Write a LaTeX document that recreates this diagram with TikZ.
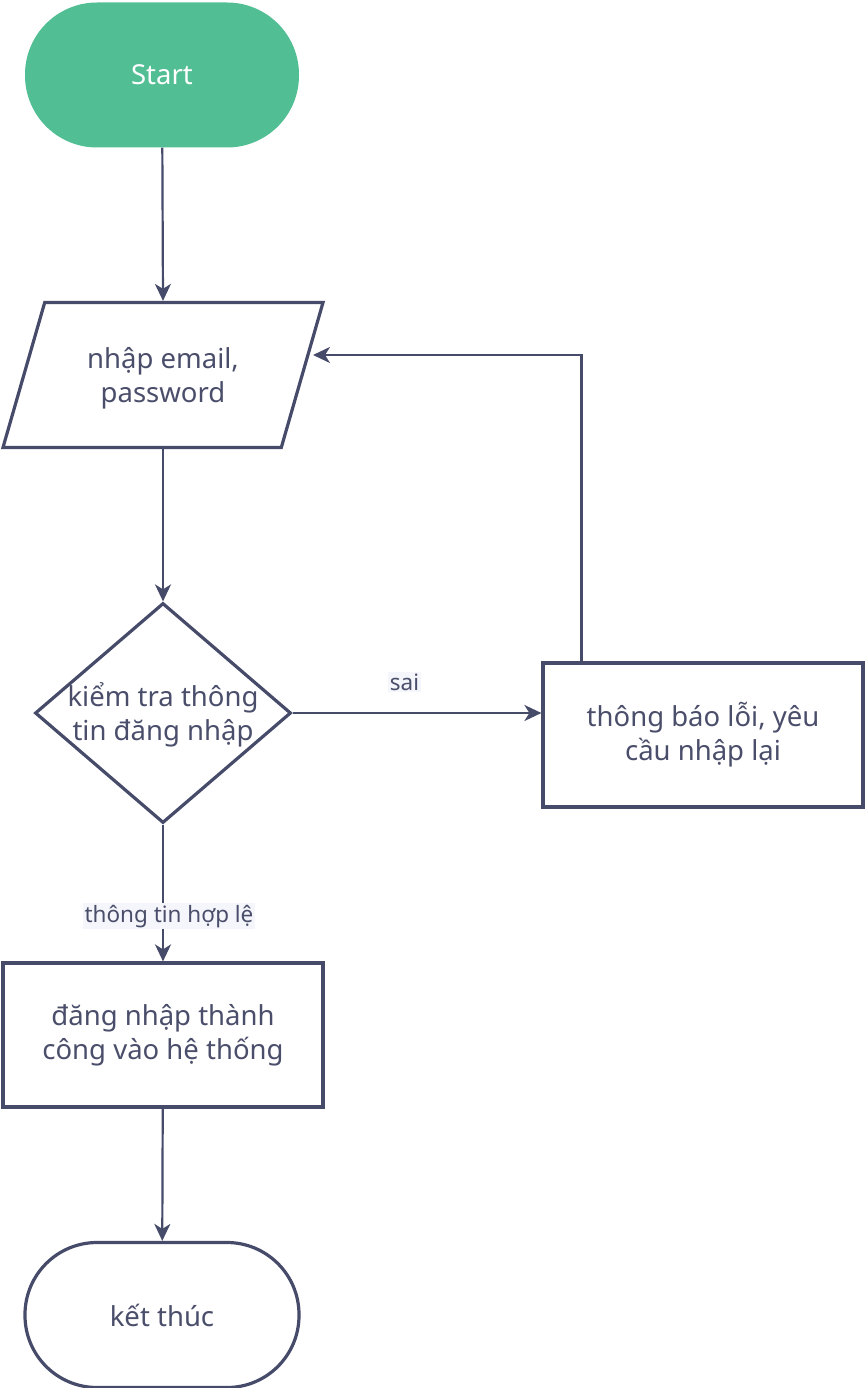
\documentclass[tikz,border=0pt]{standalone}
\usepackage{fontspec}
\setmainfont{Noto Sans}
\usetikzlibrary{shapes.geometric,arrows.meta}
\definecolor{ink}{HTML}{474B6A}
\definecolor{txt}{HTML}{4A4E6A}
\definecolor{mint}{HTML}{52BE94}
\definecolor{tagbg}{HTML}{F4F6FB}
\begin{document}
\begin{tikzpicture}[
    x=1pt, y=-1pt,
    shape line/.style={draw=ink, line width=3.2pt},
    term/.style={rounded corners=72pt, minimum width=274pt, minimum height=145pt},
    box/.style={shape line, minimum width=320pt, minimum height=144pt},
    words/.style={text=txt, font=\fontsize{27.5}{34}\selectfont, align=center},
    flow/.style={draw=ink, line width=2.2pt, -{Stealth[length=17pt,width=16pt,inset=5pt]}},
    tag/.style={fill=tagbg, text=txt, font=\fontsize{22.5}{26}\selectfont, inner sep=1.5pt}
  ]
  \useasboundingbox (0,0) rectangle (864,1388);
  % start and end
  \node[term, fill=mint, text=white, font=\fontsize{27.5}{34}\selectfont] (start) at (162,75) {Start};
  \node[term, shape line, fill=white, words] (fin) at (162,1315) {kết thúc};
  % input
  \node[shape line, trapezium, trapezium left angle=80, trapezium right angle=100,
        trapezium stretches=true, minimum width=320pt, minimum height=145pt] (inp) at (163,375) {};
  \node[words] (inpT) at (163,378) {nhập email,\\password};
  \coordinate (inpR) at (313,355);
  % check
  \node[shape line, diamond, minimum width=256pt, minimum height=220pt, inner sep=0pt] (chk) at (163,713) {};
  \node[words] (chkT) at (163,715) {kiểm tra thông\\tin đăng nhập};
  % outcomes
  \node[box, words] (err) at (703,735) {thông báo lỗi, yêu\\cầu nhập lại};
  \node[box, words] (ok) at (163,1035) {đăng nhập thành\\công vào hệ thống};
  % connectors
  \draw[flow] (start) -- (inp.north);
  \draw[flow] (inp.south) -- (chk.north);
  \draw[flow] (chk.east) -- node[tag, pos=0.45, above=20pt] {sai} (err.west |- chk.east);
  \draw[flow] ([xshift=40pt]err.north west) |- (inpR);
  \draw[flow] (chk.south) -- node[tag, pos=0.67, xshift=6pt] {thông tin hợp lệ} (ok.north);
  \draw[flow] (ok) -- (fin);
\end{tikzpicture}
\end{document}
